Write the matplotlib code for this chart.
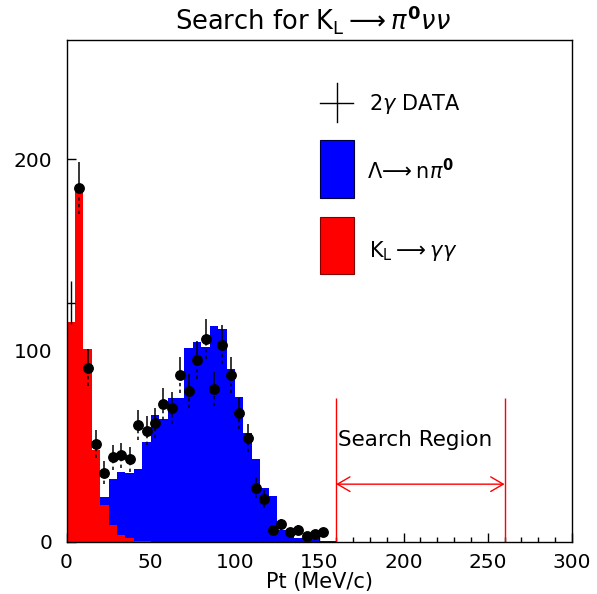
import numpy as np
import matplotlib
matplotlib.use("Agg")
import matplotlib.pyplot as plt
from matplotlib.patches import Rectangle
from matplotlib.lines import Line2D

plt.rcParams['font.family'] = ['DejaVu Sans']
plt.rcParams['mathtext.fontset'] = 'dejavusans'

# ---- data (bins of 5 MeV/c, starting at 0) ----
bin_width = 5
n_bins = 60
red_vals = [115, 183, 100.5, 48, 19, 8.8, 3.5, 1.7, 0.5, 0.3]
blue_vals = [0, 0, 3, 12, 23.5, 32.6, 36.5, 36, 38, 52, 66, 64, 75, 75,
             101, 104.5, 101.7, 112.8, 111.4, 90, 75.6, 57, 43, 28, 24,
             6, 4, 1.7, 1.2, 1.2, 0.5, 0.3]
data_vals = [125, 185, 91, 51, 36, 44, 45, 43, 61, 58, 62, 72, 70, 87,
             79, 95, 106, 80, 103, 87, 67, 54, 28, 22, 6, 9, 5, 6, 3, 4, 5]
search_lo, search_hi = 160, 260
xticks = [0, 50, 100, 150, 200, 250, 300]
yticks = [0, 100, 200]

edges = np.arange(n_bins + 1) * bin_width
red = np.zeros(n_bins); red[:len(red_vals)] = red_vals
blue = np.zeros(n_bins); blue[:len(blue_vals)] = blue_vals
data = np.array(data_vals, dtype=float)
centers = (np.arange(len(data)) + 0.5) * bin_width
errs = np.sqrt(data)

fig = plt.figure(figsize=(5.97, 5.94), dpi=100)
ax = fig.add_axes([66.5/597, 1-541.5/594, (572-66.5)/597, (541.5-40)/594])

ax.stairs(blue, edges, fill=True, color='#0000ff', zorder=2)
ax.stairs(red, edges, fill=True, color='#ff0000', zorder=3)

# data: first bin shown as a cross, rest as circles
ax.vlines(centers[0], data[0]-errs[0], data[0]+errs[0], color='black', lw=1.0, zorder=5)
ax.hlines(data[0], edges[0], edges[1], color='black', lw=1.0, zorder=5)
c = centers[1:]; d = data[1:]; e = errs[1:]
ax.vlines(c, d, d + e, color='black', lw=1.1, zorder=5)
ax.vlines(c, d - e, d, color='black', lw=1.1, linestyles=(0, (2.2, 2.2)), zorder=5)
ax.plot(c, d, 'o', color='black', ms=6.8, zorder=6)

# search region
ax.vlines([search_lo, search_hi], 0, 75, color='#ff0000', lw=1.0, zorder=4)
ax.annotate('', xy=(search_lo, 30), xytext=(search_hi, 30),
            arrowprops=dict(arrowstyle='<->,head_length=0.6,head_width=0.35',
                            color='#ff0000', lw=1.0, shrinkA=0, shrinkB=0,
                            mutation_scale=15), zorder=4)
ax.text(161, 53, 'Search Region', ha='left', va='center', fontsize=15.5, zorder=6)

ax.set_xlim(0, 300)
ax.set_ylim(0, 262.4)
ax.set_xticks(xticks)
ax.set_xticks(np.arange(0, 301, 10), minor=True)
ax.set_yticks(yticks)
ax.tick_params(axis='both', which='major', direction='in', length=6.5, width=1.0,
               labelsize=14.5, pad=8)
ax.tick_params(axis='x', which='minor', direction='in', length=3.6, width=1.0)
ax.tick_params(axis='y', which='major', pad=10)
for s in ax.spines.values():
    s.set_linewidth(1.0)
    s.set_zorder(7)
ax.set_xlabel('Pt (MeV/c)', fontsize=15, labelpad=0)

fig.text(313/597, 1-19/594,
         r'Search for K$_{\mathrm{L}}$$\longrightarrow$$\pi^{\mathbf{0}}\nu\nu$',
         ha='center', va='center', fontsize=18.5)

# legend drawn by hand in axes fraction
def fx(px):
    return (px - 66.5) / 505.5
def fy(py):
    return (541.5 - py) / 501.5

ax.add_line(Line2D([fx(320), fx(353)], [fy(103), fy(103)], color='black', lw=1.0,
                   transform=ax.transAxes))
ax.add_line(Line2D([fx(336.5), fx(336.5)], [fy(83), fy(122)], color='black', lw=1.0,
                   transform=ax.transAxes))
ax.add_patch(Rectangle((fx(319.5), fy(198)), fx(353.5)-fx(319.5), fy(140)-fy(198),
                       transform=ax.transAxes, facecolor='#0000ff', edgecolor='#000040', lw=0.8))
ax.add_patch(Rectangle((fx(319.5), fy(274)), fx(353.5)-fx(319.5), fy(217)-fy(274),
                       transform=ax.transAxes, facecolor='#ff0000', edgecolor='#800000', lw=0.8))
ax.text(fx(369), fy(104), r'2$\gamma$ DATA', transform=ax.transAxes, ha='left', va='center', fontsize=15)
ax.text(fx(367), fy(171), r'$\Lambda\!\longrightarrow$n$\pi^{\mathbf{0}}$', transform=ax.transAxes,
        ha='left', va='center', fontsize=15)
ax.text(fx(369), fy(251), r'K$_{\mathrm{L}}$$\longrightarrow$$\gamma\gamma$', transform=ax.transAxes,
        ha='left', va='center', fontsize=15)

fig.savefig('out.png', dpi=100)
